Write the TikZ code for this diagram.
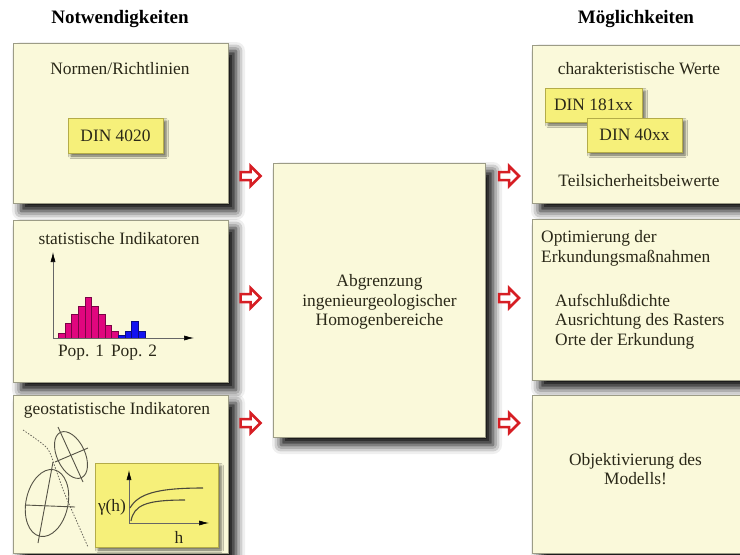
\documentclass[tikz,border=0pt]{standalone}
\usepackage{fontspec}
\setmainfont{Liberation Serif}
\usetikzlibrary{positioning,shapes.arrows,shadows.blur,arrows.meta}
\definecolor{cream}{HTML}{FAF9DA}
\definecolor{rim}{HTML}{9C9C86}
\definecolor{hl}{HTML}{F6F07A}
\definecolor{hlrim}{HTML}{B4AC48}
\definecolor{arr}{HTML}{D61E24}
\definecolor{popa}{HTML}{E0067E}
\definecolor{popb}{HTML}{1212F0}
\definecolor{ink}{HTML}{2A2818}

\begin{document}
\begin{tikzpicture}[x=1pt, y=-1pt, font=\fontsize{17.4}{19.5}\selectfont,
  panel/.style={draw=rim, fill=cream, line width=0.8pt, inner sep=0pt,
    blur shadow={shadow xshift=8pt, shadow yshift=-8pt, shadow blur radius=9pt, shadow opacity=100}},
  tag/.style={draw=hlrim, fill=hl, line width=0.8pt, inner sep=0pt, text=ink,
    blur shadow={shadow xshift=3pt, shadow yshift=-3pt, shadow blur radius=2.5pt, shadow opacity=60}},
  hollow/.style={single arrow, draw=arr, fill=white, line width=2.5pt, inner sep=2.75pt,
    minimum height=20pt, single arrow head extend=6pt},
  head/.style={font=\fontsize{19}{22}\selectfont\bfseries},
  txt/.style={inner sep=0pt, text=ink},
  axis/.style={draw=black!60, line width=0.6pt, -{Latex[length=10pt, width=5pt, black]}},
  curve/.style={draw=ink!85, line width=1.1pt},
  geo/.style={draw=ink!80, line width=0.9pt},
  trail/.style={draw=ink!70, line width=0.8pt, dash pattern=on 1.5pt off 1.5pt}]
\clip (0,0) rectangle (740,555);
% headings
\node[head] (need) at (120,19) {Notwendigkeiten};
\node[head] (poss) at (636,19) {Möglichkeiten};
% panels
\node[panel, minimum width=215pt, minimum height=160pt] (norm) at (120.5,123) {};
\node[panel, minimum width=215pt, minimum height=162pt] (stat) at (120.5,301) {};
\node[panel, minimum width=215pt, minimum height=158pt] (geost) at (120.5,474) {};
\node[panel, minimum width=212pt, minimum height=274pt] (homog) at (379,300) {};
\node[panel, minimum width=230pt, minimum height=158pt] (char) at (647,124) {};
\node[panel, minimum width=230pt, minimum height=161pt] (optim) at (647,299.5) {};
\node[panel, minimum width=230pt, minimum height=158pt] (model) at (647,474) {};
% arrows
\foreach \y [count=\k] in {176,298,423} {
  \node[hollow] (inA\k) at (248.5,\y) {};
  \node[hollow] (outA\k) at (507,\y) {};
}
% Normen
\node[txt] (normT) at (120,69) {Normen/Richtlinien};
\node[tag, minimum width=95pt, minimum height=35pt] (din) at (115.5,135.5) {DIN 4020};
% statistische Indikatoren
\node[txt] (statT) at (119,239) {statistische Indikatoren};
\foreach \h [count=\i from 0] in {5,15,24,32,41,32,24,13,7}
  \draw[fill=popa, draw=popa!55!black, line width=0.4pt] (58.3+\i*6.67,338) rectangle ++(6.67,-\h);
\foreach \h [count=\i from 9] in {3,7,17,7}
  \draw[fill=popb, draw=popb!55!black, line width=0.4pt] (58.3+\i*6.67,338) rectangle ++(6.67,-\h);
\coordinate (o1) at (53,338);
\draw[axis] (o1) -- (53,252);
\draw[axis] (o1) -- (194,338);
\node[txt] (pop1) at (81,353) {Pop. 1};
\node[txt] (pop2) at (134,353) {Pop. 2};
% geostatistische Indikatoren
\node[txt] (geoT) at (117,410) {geostatistische Indikatoren};
\draw[trail] plot[smooth] coordinates {(23,430) (47,448) (55,467) (64,492) (77,522) (88,547)};
\draw[geo, rotate around={-65:(71,455)}] (71,455) ellipse [x radius=25, y radius=14];
\draw[geo] (58,427) -- (83,482);
\draw[geo] (55,462) -- (88,448);
\draw[geo, rotate around={78:(47,503)}] (47,503) ellipse [x radius=34, y radius=21];
\draw[geo] (53,462) -- (38,543);
\draw[geo] (25,505) -- (75,507);
\node[tag, minimum width=123pt, minimum height=84pt] (vario) at (156.5,505) {};
\coordinate (o2) at (129,523);
\draw[axis] (o2) -- (129,470);
\draw[axis] (o2) -- (209,523);
\draw[curve] (130,508) .. controls (138,494) and (156,488) .. (203,488);
\draw[curve] (131,521) .. controls (134,505) and (146,500) .. (185,500);
\node[txt] (gam) at (112,507) {γ(h)};
\node[txt] (lag) at (179,537) {h};
% Mitte
\node[txt, align=center] (homT) at (379.5,302) {Abgrenzung\\ingenieurgeologischer\\Homogenbereiche};
% charakteristische Werte
\node[txt] (charT) at (639,69) {charakteristische Werte};
\node[tag, minimum width=97pt, minimum height=34pt] (din1) at (593.5,105) {DIN 181xx};
\node[tag, minimum width=95pt, minimum height=34pt] (din2) at (634.5,135) {DIN 40xx};
\node[txt] (teil) at (639,181) {Teilsicherheitsbeiwerte};
% Optimierung
\node[txt, align=left, anchor=west] (optT) at (541,248.5) {Optimierung der\\Erkundungsmaßnahmen};
\node[txt, align=left, anchor=west] (optL) at (555,321.5) {Aufschlußdichte\\Ausrichtung des Rasters\\Orte der Erkundung};
% Modell
\node[txt, align=center] (modT) at (635.5,469) {Objektivierung des\\Modells!};
\end{tikzpicture}
\end{document}
